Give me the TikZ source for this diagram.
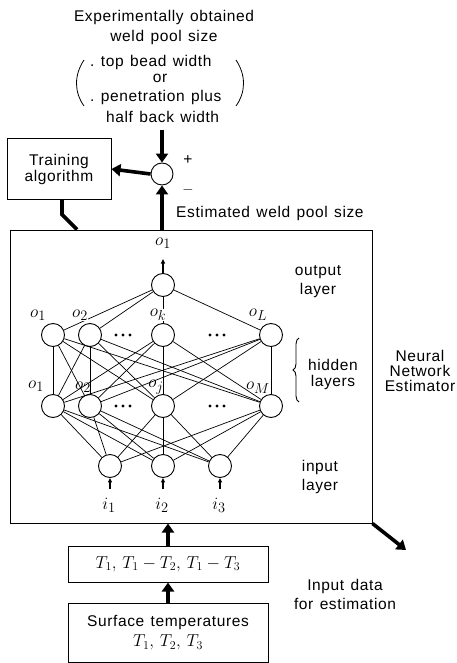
\documentclass[tikz,border=0pt]{standalone}
\usepackage{fontspec}
\setmainfont{Liberation Sans}[LetterSpace=4,WordSpace=1.3]
\usetikzlibrary{arrows.meta,decorations.pathreplacing}
\begin{document}
\begin{tikzpicture}[x=1pt,y=-1pt,
  every node/.style={font=\fontsize{15.5}{19}\selectfont},
  neuron/.style={circle,draw,line width=0.9pt,minimum size=23pt,inner sep=0pt},
  link/.style={line width=0.7pt},
  bigarrow/.style={line width=3.6pt,-{Triangle[length=9pt,width=12pt]}},
  smallarrow/.style={line width=1.1pt,-{Triangle[length=4.5pt,width=4pt]}},
  box/.style={draw,line width=1pt,inner sep=0pt},
  lab/.style={font=\fontsize{19}{21}\selectfont,inner sep=0.6pt,fill=white},
  txt/.style={align=center,inner sep=0pt},
  dotf/.style={fill,circle,inner sep=0pt,minimum size=3.2pt}]
\useasboundingbox (0,0) rectangle (457,663);

% ---------- top text ----------
\node[txt] (t1) at (164,17) {Experimentally obtained};
\node[txt] (t2) at (164,37) {weld pool size};
\node[txt,anchor=west] (t3) at (90,62) {.\ top bead width};
\node[txt] (t4) at (160,78) {or};
\node[txt,anchor=west] (t5) at (90,97) {.\ penetration plus};
\node[txt,anchor=west] (t6) at (106,117) {half back width};
\draw[line width=0.8pt] (84,60) .. controls (74,75) and (74,92) .. (84,106);
\draw[line width=0.8pt] (236,60) .. controls (246,75) and (246,92) .. (236,106);

% ---------- summing junction & training ----------
\node[neuron,minimum size=22pt] (sum) at (162,174) {};
\coordinate (topin) at (162,130);
\draw[bigarrow] (topin) -- (sum.north);
\node[txt] (plus) at (188,160) {+};
\node[txt] (minus) at (188,190) {$-$};
\node[box,minimum width=104pt,minimum height=60pt,align=center] (train) at (59,169) {Training\\[-3pt]algorithm};
\draw[bigarrow] (sum.west) -- (train.east);

% ---------- main box ----------
\node[box,minimum width=362pt,minimum height=293pt] (main) at (191,376.5) {};
\draw[bigarrow] (sum |- main.north) -- (sum.south);
\coordinate (trk) at ([xshift=-114pt]main.north);
\draw[line width=3.6pt] ([xshift=3pt]train.south) -- ++(0,15) -- (trk);
\coordinate (outend) at (406,550);
\draw[bigarrow] (main.south east) -- (outend);
\node[txt,anchor=west] (est) at (176,213) {Estimated weld pool size};

% ---------- network ----------
\node[neuron] (O)  at (163,285) {};
\node[neuron] (A1) at (53,335) {};
\node[neuron] (A2) at (90,335) {};
\node[neuron] (Ak) at (163,335) {};
\node[neuron] (AL) at (271,335) {};
\node[neuron] (B1) at (53,406) {};
\node[neuron] (B2) at (90,406) {};
\node[neuron] (Bj) at (163,406) {};
\node[neuron] (BM) at (271,406) {};
\node[neuron] (I1) at (110,466) {};
\node[neuron] (I2) at (163,466) {};
\node[neuron] (I3) at (220,466) {};

\foreach \a in {A1,A2,Ak,AL}{\draw[link] (O) -- (\a);}
\foreach \a in {A1,A2,Ak,AL}{\foreach \b in {B1,B2,Bj,BM}{\draw[link] (\a) -- (\b);}}
\foreach \b in {B1,B2,Bj,BM}{\foreach \i in {I1,I2,I3}{\draw[link] (\b) -- (\i);}}

\foreach \y/\r in {335/a,406/b}{
  \node[dotf] (d1\r) at (116,\y) {};
  \node[dotf] (d2\r) at (123,\y) {};
  \node[dotf] (d3\r) at (130,\y) {};
  \node[dotf] (d4\r) at (210,\y) {};
  \node[dotf] (d5\r) at (217,\y) {};
  \node[dotf] (d6\r) at (224,\y) {};
}

% labels
\coordinate (oout) at (163,259);
\draw[smallarrow] (O.north) -- (oout);
\node[lab] (lo) at (163,243) {$o_1$};
\node[lab] (la1) at (38,315) {$o_1$};
\node[lab] (la2) at (80,315) {$o_2$};
\node[lab] (lak) at (158,315) {$o_k$};
\node[lab] (laL) at (258,315) {$o_L$};
\node[lab,fill=none] (lb1) at (36,386) {$o_1$};
\node[lab,fill=none] (lb2) at (83,387) {$o_2$};
\node[lab,fill=none] (lbj) at (156,387) {$o_j$};
\node[lab,fill=none] (lbM) at (258,388) {$o_M$};

\foreach \i/\x/\n in {I1/110/1,I2/163/2,I3/220/3}{
  \coordinate (in\n) at (\x,489);
  \draw[smallarrow] (in\n) -- (\i.south);
  \node[lab,fill=none] (li\n) at (\x-1,505) {$i_\n$};
}

% layer texts
\node[txt] (outl) at (318,282) {output\\layer};
\node[txt] (hidl) at (333,374) {hidden\\[-3pt]layers};
\node[txt] (inl) at (320,477) {input\\layer};
\draw[line width=0.9pt,decorate,decoration={brace,amplitude=6pt}] (299,402) -- (299,338);
\node[txt] (nne) at (420,371) {Neural\\[-4pt]Network\\[-4pt]Estimator};

% ---------- input boxes ----------
\node[box,minimum width=200pt,minimum height=36pt] (tb) at (168,564) {\fontsize{18}{20}\selectfont $T_1,\, T_1-T_2,\, T_1-T_3$};
\node[box,minimum width=200pt,minimum height=59pt,align=center] (sb) at (168,632.5) {Surface temperatures\\[1pt]\fontsize{18}{20}\selectfont $T_1,\, T_2,\, T_3$};
\draw[bigarrow] (tb.north) -- (tb.north |- main.south);
\draw[bigarrow] (sb.north) -- (tb.south);
\node[txt] (idat) at (345,594) {Input data\\for estimation};
\end{tikzpicture}
\end{document}
